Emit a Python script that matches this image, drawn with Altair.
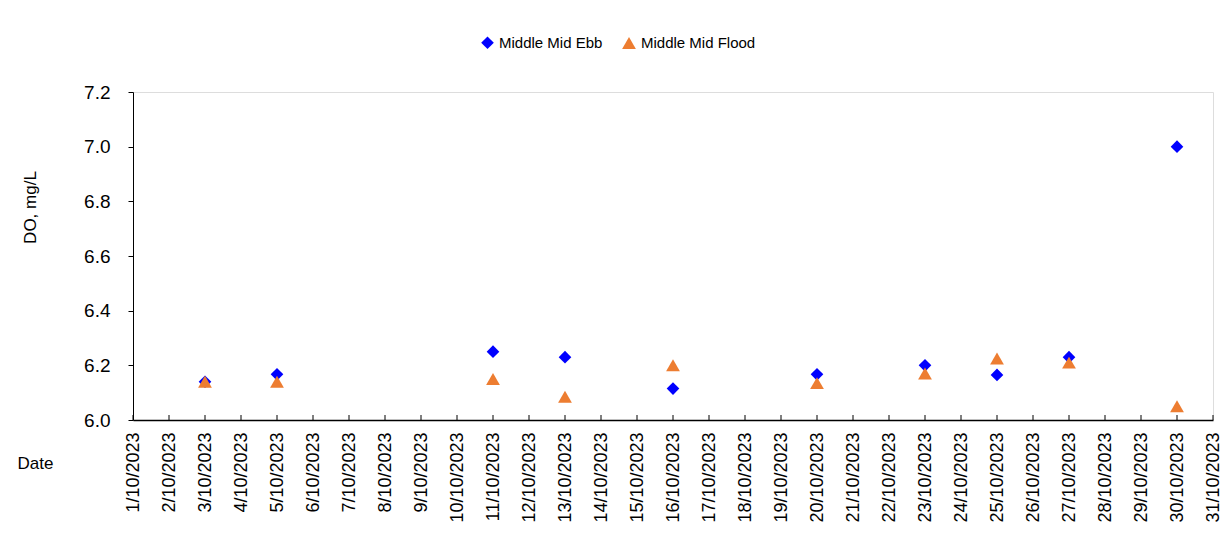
import altair as alt
import pandas as pd

days = [3, 5, 11, 13, 16, 20, 23, 25, 27, 30]
ebb = [6.14, 6.167, 6.25, 6.23, 6.115, 6.167, 6.20, 6.165, 6.23, 7.00]
flood = [6.14, 6.14, 6.15, 6.085, 6.20, 6.135, 6.17, 6.225, 6.21, 6.05]
series = ["Middle Mid Ebb", "Middle Mid Flood"]
tick_days = list(range(1, 32))
y_ticks = [6.0, 6.2, 6.4, 6.6, 6.8, 7.0, 7.2]

rows = []
for d, v in zip(days, ebb):
    rows.append({"day": d, "value": v, "series": series[0]})
for d, v in zip(days, flood):
    rows.append({"day": d, "value": v, "series": series[1]})
df = pd.DataFrame(rows)
ticks_df = pd.DataFrame({"day": tick_days})

W, H = 1080, 328
FONT = "Liberation Sans"

x_enc = alt.X(
    "day:Q",
    scale=alt.Scale(domain=[1, 31], nice=False, zero=False),
    axis=alt.Axis(
        values=tick_days,
        labelExpr="datum.value + '/10/2023'",
        labelAngle=-90,
        labelFontSize=18,
        labelPadding=12,
        labelColor="black",
        labelFont=FONT,
        labelOverlap=False,
        labelBound=False,
        ticks=False,
        grid=False,
        domainColor="black",
        domainWidth=1.5,
        title="Date",
        titleAngle=0,
        titleX=-116,
        titleY=43,
        titleAlign="left",
        titleBaseline="middle",
        titleFontSize=17,
        titleFontWeight="normal",
        titleFont=FONT,
        titleColor="black",
    ),
)

y_enc = alt.Y(
    "value:Q",
    scale=alt.Scale(domain=[6.0, 7.2], nice=False, zero=False),
    axis=alt.Axis(
        values=y_ticks,
        format=".1f",
        labelFontSize=19,
        labelPadding=18,
        labelColor="black",
        labelFont=FONT,
        tickSize=5,
        tickColor="black",
        grid=False,
        domainColor="black",
        title="DO, mg/L",
        titleX=-103,
        titleY=115,
        titleAlign="center",
        titleBaseline="middle",
        titleFontSize=17,
        titleFontWeight="normal",
        titleFont=FONT,
        titleColor="black",
    ),
)

legend = alt.Legend(
    title=None,
    orient="none",
    direction="horizontal",
    legendX=347,
    legendY=-57,
    labelFontSize=15,
    labelFont=FONT,
    labelColor="black",
    symbolSize=50,
    columnPadding=18,
    labelOffset=4,
)

points = alt.Chart(df).mark_point(filled=True, opacity=1, strokeWidth=0).encode(
    x=x_enc,
    y=y_enc,
    color=alt.Color("series:N", scale=alt.Scale(domain=series, range=["#0000FF", "#ED7D31"]), legend=legend),
    shape=alt.Shape("series:N", scale=alt.Scale(domain=series, range=["diamond", "triangle-up"]), legend=legend),
    size=alt.Size("series:N", scale=alt.Scale(domain=series, range=[160, 190]), legend=None),
)

tick_marks = alt.Chart(ticks_df).mark_rule(color="black", strokeWidth=1).encode(
    x=x_enc,
    y=alt.value(H),
    y2=alt.value(H - 5),
)

chart = alt.layer(tick_marks, points).properties(
    width=W,
    height=H,
    autosize=alt.AutoSizeParams(type="none"),
    padding={"left": 125, "top": 84, "right": 8, "bottom": 110},
).configure_view(stroke="#555555", strokeWidth=1).configure(background="white")

chart.save("out.html", embed_options={"renderer": "svg", "actions": False})
